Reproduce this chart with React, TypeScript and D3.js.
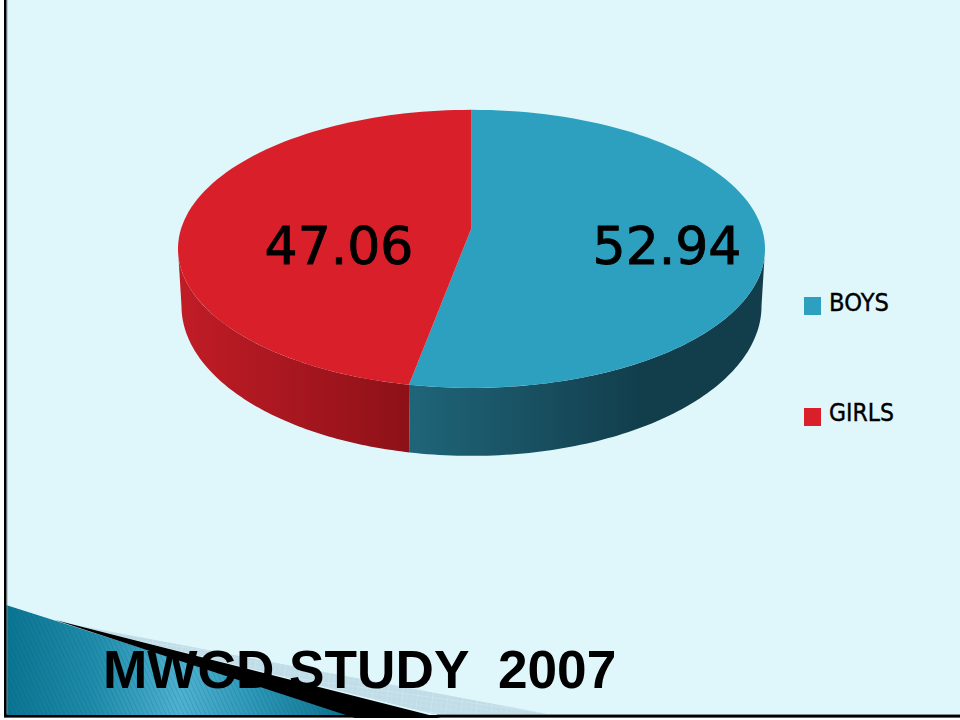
import * as d3 from 'd3';

const categories = ['BOYS', 'GIRLS'];
const values = [52.94, 47.06];
const topColors = ['#2da0bf', '#d9202a'];
const sideStops = [
  ['#1f6579', '#123e4c'],
  ['#8e1118', '#c01c26']
];

const cx = 471.5;
const apexY = 228;
const tilt = -0.15; // fake perspective, far edge of the pie is squeezed
const sx = 290.2;
const sy = 135.9;

// pie angle -> screen point on the top face
function project(a: number): [number, number] {
  const u = Math.sin(a);
  const v = -Math.cos(a);
  const w = 1 + tilt * v;
  return [cx + (sx * u) / w, apexY + (sy * v) / w];
}

// same angle on the lower rim, which is a slightly deeper ellipse
function projectLower(a: number): [number, number] {
  const [x, y] = project(a);
  return [cx + ((x - cx) * 290) / 293.5, 306 + ((y - 249) * 150) / 139];
}

const line = d3.line<[number, number]>().x((d) => d[0]).y((d) => d[1]);

function samples(a0: number, a1: number, n = 90) {
  return d3.range(n + 1).map((i) => a0 + ((a1 - a0) * i) / n);
}

export default function App() {
  const arcs = d3.pie<number>().sort(null)(values);
  const fmt = d3.format('.2f');
  const legendY = d3.scalePoint<string>().domain(categories).range([306, 417]);
  const labelX = d3.scaleOrdinal<string, number>().domain(categories).range([667, 339]);
  const legendWidth = d3.scaleOrdinal<string, number>().domain(categories).range([60, 65]);

  const topPaths = arcs.map((d) => {
    const pts = samples(d.startAngle, d.endAngle).map((a) => project(a));
    return line([[cx, apexY], ...pts]) + 'Z';
  });

  // only the front of the rim shows, between the widest points of the ellipse
  const widest = Math.asin(-tilt);
  const sidePaths = arcs.map((d) => {
    const a0 = Math.max(d.startAngle, Math.PI / 2 + widest);
    const a1 = Math.min(d.endAngle, (Math.PI * 3) / 2 - widest);
    const upper = samples(a0, a1).map((a) => project(a));
    const lower = samples(a0, a1).map((a) => projectLower(a)).reverse();
    return line([...upper, ...lower]) + 'Z';
  });

  return (
    <svg
      width={960}
      height={720}
      viewBox="0 0 960 720"
      style={{ position: 'absolute', left: 0, top: 0, background: '#fff' }}
    >
      <defs>
        <linearGradient id="teal" gradientUnits="userSpaceOnUse" x1={6} y1={0} x2={355} y2={0}>
          <stop offset="0" stopColor="#0a7592" />
          <stop offset="0.25" stopColor="#1f8cab" />
          <stop offset="0.5" stopColor="#4fb2d2" />
          <stop offset="0.72" stopColor="#2c96b6" />
          <stop offset="1" stopColor="#0a6e8a" />
        </linearGradient>
        <pattern id="hatch" width="4" height="4" patternUnits="userSpaceOnUse" patternTransform="rotate(-25)">
          <line x1={0} y1={0} x2={0} y2={4} stroke="#03485f" strokeOpacity={0.3} strokeWidth={1.2} />
        </pattern>
        <pattern id="grid" width="15" height="15" patternUnits="userSpaceOnUse" patternTransform="rotate(8)">
          <rect width={15} height={15} fill="#bfdce7" />
          <path d="M0 0H15M0 0V15" stroke="#dcf0f6" strokeWidth={0.8} />
          <path d="M0 5H15M0 10H15M5 0V15M10 0V15" stroke="#cbe4ed" strokeWidth={0.6} />
        </pattern>
        {sideStops.map((s, i) => (
          <linearGradient
            key={i}
            id={`side${i}`}
            gradientUnits="userSpaceOnUse"
            x1={i === 0 ? 410 : 409}
            y1={0}
            x2={i === 0 ? 640 : 181}
            y2={0}
          >
            <stop offset="0" stopColor={s[0]} />
            <stop offset="1" stopColor={s[1]} />
          </linearGradient>
        ))}
      </defs>

      <rect x={4} y={0} width={956} height={718} fill="#dff6fb" />

      {/* bottom left slide decoration */}
      <path d="M70 624L553 715L437 715Z" fill="url(#grid)" />
      <path d="M6 605L355 716L6 716Z" fill="url(#teal)" />
      <path d="M6 605L355 716L6 716Z" fill="url(#hatch)" />
      <path d="M60 620.5L355 715" stroke="#cfe9f1" strokeWidth={1} fill="none" />
      <path d="M55 620L441 718L355 718Z" fill="#000" />

      <rect x={4} y={0} width={2.6} height={717} fill="#000" />
      <rect x={6.6} y={0} width={0.8} height={714} fill="#7d8f94" />
      <rect x={4} y={715} width={956} height={2.6} fill="#000" />
      <rect x={437} y={714} width={523} height={1} fill="#7d8f94" />

      {sidePaths.map((p, i) => (
        <path key={i} d={p} fill={`url(#side${i})`} />
      ))}
      {topPaths.map((p, i) => (
        <path key={i} d={p} fill={topColors[i]} />
      ))}

      {arcs.map((d, i) => (
        <text
          key={i}
          x={labelX(categories[i])}
          y={264}
          textAnchor="middle"
          fontFamily="DejaVu Sans"
          fontSize={52}
          fill="#000"
          stroke="#000"
          strokeWidth={0.9}
        >
          {fmt(d.value)}
        </text>
      ))}

      {categories.map((c, i) => (
        <g key={c}>
          <rect x={804} y={legendY(c)! - 9} width={17} height={18} fill={topColors[i]} />
          <text
            x={829}
            y={legendY(c)! + (i === 0 ? 5 : 4)}
            fontFamily="DejaVu Sans"
            fontSize={24}
            fill="#000"
            stroke="#000"
            strokeWidth={0.4}
            textLength={legendWidth(c)}
            lengthAdjust="spacingAndGlyphs"
          >
            {c}
          </text>
        </g>
      ))}

      <text
        x={103}
        y={688}
        fontFamily="Liberation Sans"
        fontWeight="bold"
        fontSize={53.2}
        fill="#000"
        style={{ whiteSpace: 'pre' }}
      >
        MWCD STUDY  2007
      </text>
    </svg>
  );
}
